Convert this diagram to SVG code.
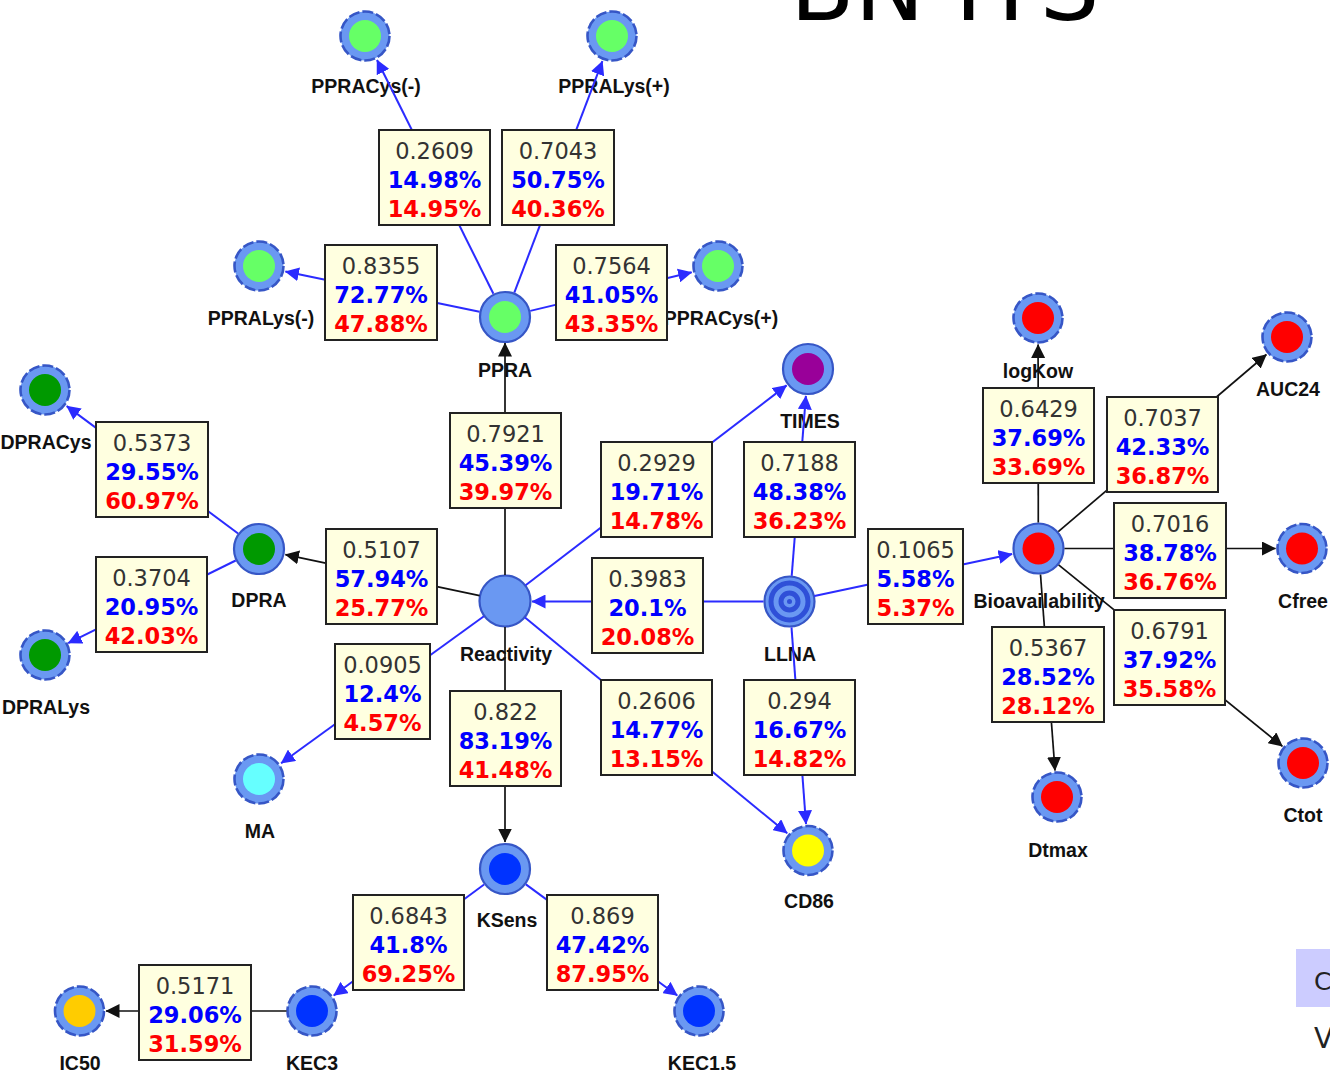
<svg xmlns="http://www.w3.org/2000/svg" width="1330" height="1073" viewBox="0 0 1330 1073">
<style>
.ring{fill:#6a98f2;stroke:#3656c6;stroke-width:2.2}
.leaf{stroke-dasharray:11 3;stroke-width:2.6}
.lbl{font-family:"Liberation Sans",Arial,sans-serif;font-weight:bold;font-size:19.5px;fill:#111;text-anchor:middle}
.eb{stroke:#2b2bff;stroke-width:2;fill:none;marker-end:url(#ab)}
.ek{stroke:#111;stroke-width:1.7;fill:none;marker-end:url(#ak)}
.box rect{fill:#ffffe0;stroke:#222;stroke-width:2}
.box text{font-family:"DejaVu Sans",Verdana,sans-serif;font-size:22.5px;text-anchor:middle}
.p0{fill:#333}
.p1{fill:#0000ff;font-weight:bold}
.p2{fill:#ff0000;font-weight:bold}
.title{font-family:"DejaVu Sans",sans-serif;font-size:94px;fill:#000}
.side{font-family:"DejaVu Sans",sans-serif;fill:#222}
</style>
<defs>
<marker id="ab" viewBox="0 0 14 14" refX="13.5" refY="7" markerWidth="14" markerHeight="14" markerUnits="userSpaceOnUse" orient="auto"><path d="M0,0 L14,7 L0,14 z" fill="#2b2bff"/></marker>
<marker id="ak" viewBox="0 0 14 14" refX="13.5" refY="7" markerWidth="14" markerHeight="14" markerUnits="userSpaceOnUse" orient="auto"><path d="M0,0 L14,7 L0,14 z" fill="#111"/></marker>
</defs>
<rect width="1330" height="1073" fill="#fff"/>
<text class="title" x="790" y="20">BN ITS</text>
<rect x="1296" y="949" width="40" height="58" fill="#ccccff"/>
<text class="side" x="1314" y="990" font-size="25">C</text>
<text class="side" x="1314" y="1048" font-size="28">V</text>

<g id="nodes">
<g id="n-PPRACys-minus"><circle class="ring leaf" cx="365" cy="36" r="24.5"/><circle cx="365" cy="36" r="16" fill="#66ff66"/><text class="lbl" x="366" y="93">PPRACys(-)</text></g>
<g id="n-PPRALys-plus"><circle class="ring leaf" cx="612" cy="36" r="24.5"/><circle cx="612" cy="36" r="16" fill="#66ff66"/><text class="lbl" x="614" y="93">PPRALys(+)</text></g>
<g id="n-PPRALys-minus"><circle class="ring leaf" cx="259" cy="266" r="24.5"/><circle cx="259" cy="266" r="16" fill="#66ff66"/><text class="lbl" x="261" y="325">PPRALys(-)</text></g>
<g id="n-PPRACys-plus"><circle class="ring leaf" cx="718" cy="266" r="24.5"/><circle cx="718" cy="266" r="16" fill="#66ff66"/><text class="lbl" x="721" y="325">PPRACys(+)</text></g>
<g id="n-PPRA"><circle class="ring" cx="505" cy="317" r="25"/><circle cx="505" cy="317" r="16" fill="#66ff66"/><text class="lbl" x="505" y="377">PPRA</text></g>
<g id="n-DPRACys"><circle class="ring leaf" cx="45" cy="390" r="24.5"/><circle cx="45" cy="390" r="16" fill="#009900"/><text class="lbl" x="46" y="449">DPRACys</text></g>
<g id="n-DPRA"><circle class="ring" cx="259" cy="549" r="25"/><circle cx="259" cy="549" r="16" fill="#009900"/><text class="lbl" x="259" y="607">DPRA</text></g>
<g id="n-DPRALys"><circle class="ring leaf" cx="45" cy="655" r="24.5"/><circle cx="45" cy="655" r="16" fill="#009900"/><text class="lbl" x="46" y="714">DPRALys</text></g>
<g id="n-Reactivity"><circle class="ring" cx="505" cy="601" r="25.5" fill="#6b9bf7"/><text class="lbl" x="506" y="661">Reactivity</text></g>
<g id="n-TIMES"><circle class="ring" cx="808" cy="369" r="25"/><circle cx="808" cy="369" r="16" fill="#990099"/><text class="lbl" x="810" y="428">TIMES</text></g>
<g id="n-LLNA"><circle class="ring" cx="789.5" cy="601.5" r="25" fill="#6d96f2"/><circle cx="789.5" cy="601.5" r="18.5" fill="none" stroke="#2f50d8" stroke-width="5"/><circle cx="789.5" cy="601.5" r="8.5" fill="none" stroke="#2f50d8" stroke-width="5"/><circle cx="789.5" cy="601.5" r="2.5" fill="#2f50d8"/><text class="lbl" x="790" y="661">LLNA</text></g>
<g id="n-MA"><circle class="ring leaf" cx="259" cy="779" r="24.5"/><circle cx="259" cy="779" r="16" fill="#66ffff"/><text class="lbl" x="260" y="838">MA</text></g>
<g id="n-KSens"><circle class="ring" cx="505" cy="869" r="25"/><circle cx="505" cy="869" r="16" fill="#0033ff"/><text class="lbl" x="507" y="927">KSens</text></g>
<g id="n-CD86"><circle class="ring leaf" cx="808" cy="850.5" r="24.5"/><circle cx="808" cy="850.5" r="16" fill="#ffff00"/><text class="lbl" x="809" y="908">CD86</text></g>
<g id="n-KEC3"><circle class="ring leaf" cx="312" cy="1011" r="24.5"/><circle cx="312" cy="1011" r="16" fill="#0033ff"/><text class="lbl" x="312" y="1070">KEC3</text></g>
<g id="n-KEC1.5"><circle class="ring leaf" cx="699" cy="1011" r="24.5"/><circle cx="699" cy="1011" r="16" fill="#0033ff"/><text class="lbl" x="702" y="1070">KEC1.5</text></g>
<g id="n-IC50"><circle class="ring leaf" cx="79.5" cy="1011" r="24.5"/><circle cx="79.5" cy="1011" r="16" fill="#ffcc00"/><text class="lbl" x="80" y="1070">IC50</text></g>
<g id="n-logKow"><circle class="ring leaf" cx="1038" cy="318" r="24.5"/><circle cx="1038" cy="318" r="16" fill="#ff0000"/><text class="lbl" x="1038" y="378">logKow</text></g>
<g id="n-AUC24"><circle class="ring leaf" cx="1287" cy="337" r="24.5"/><circle cx="1287" cy="337" r="16" fill="#ff0000"/><text class="lbl" x="1288" y="396">AUC24</text></g>
<g id="n-Bioavailability"><circle class="ring" cx="1038.5" cy="548.5" r="25"/><circle cx="1038.5" cy="548.5" r="16" fill="#ff0000"/><text class="lbl" x="1039" y="608">Bioavailability</text></g>
<g id="n-Cfree"><circle class="ring leaf" cx="1302" cy="548.5" r="24.5"/><circle cx="1302" cy="548.5" r="16" fill="#ff0000"/><text class="lbl" x="1303" y="608">Cfree</text></g>
<g id="n-Dtmax"><circle class="ring leaf" cx="1057" cy="797" r="24.5"/><circle cx="1057" cy="797" r="16" fill="#ff0000"/><text class="lbl" x="1058" y="857">Dtmax</text></g>
<g id="n-Ctot"><circle class="ring leaf" cx="1303" cy="763" r="24.5"/><circle cx="1303" cy="763" r="16" fill="#ff0000"/><text class="lbl" x="1303" y="822">Ctot</text></g>
</g>

<g id="connectors">
<line class="eb" x1="493.4" y1="293.7" x2="377" y2="60"/>
<line class="eb" x1="514.3" y1="292.7" x2="602.4" y2="61.2"/>
<line class="eb" x1="479.5" y1="311.7" x2="285.4" y2="271.5"/>
<line class="eb" x1="530.3" y1="310.9" x2="691.7" y2="272.3"/>
<line class="ek" x1="505" y1="575" x2="505" y2="343"/>
<line class="eb" x1="525.6" y1="585.2" x2="786.6" y2="385.4"/>
<line class="ek" x1="479.6" y1="595.6" x2="285.4" y2="554.6"/>
<line class="eb" x1="238.1" y1="533.5" x2="66.7" y2="406.1"/>
<line class="eb" x1="235.7" y1="560.5" x2="68.2" y2="643.1"/>
<line class="eb" x1="763.5" y1="601.5" x2="532" y2="601.5"/>
<line class="eb" x1="791.7" y1="575.9" x2="805.9" y2="395.9"/>
<line class="eb" x1="814.4" y1="596" x2="1012.1" y2="554.1"/>
<line class="eb" x1="791.5" y1="627.4" x2="806" y2="824"/>
<line class="eb" x1="525" y1="617.5" x2="787.2" y2="833.3"/>
<line class="eb" x1="483.9" y1="616.2" x2="281.1" y2="763.2"/>
<line class="ek" x1="505" y1="627" x2="505" y2="842"/>
<line class="eb" x1="484.1" y1="884.5" x2="333.7" y2="995.5"/>
<line class="eb" x1="525.9" y1="884.4" x2="677.3" y2="995.5"/>
<line class="ek" x1="286.5" y1="1011" x2="106" y2="1011"/>
<line class="ek" x1="1038.3" y1="522.5" x2="1038.1" y2="344.5"/>
<line class="ek" x1="1058.3" y1="531.6" x2="1266.4" y2="354.5"/>
<line class="ek" x1="1064.5" y1="548.5" x2="1275.5" y2="548.5"/>
<line class="ek" x1="1040.5" y1="574.5" x2="1055" y2="770.5"/>
<line class="ek" x1="1058.6" y1="564.9" x2="1282.4" y2="746.3"/>
</g>

<g id="edge-labels">
<g class="box" transform="translate(379,130)"><rect width="111" height="95"/><text x="55.5" y="29" class="p0">0.2609</text><text x="55.5" y="58" class="p1">14.98%</text><text x="55.5" y="87" class="p2">14.95%</text></g>
<g class="box" transform="translate(502,130)"><rect width="112" height="95"/><text x="56" y="29" class="p0">0.7043</text><text x="56" y="58" class="p1">50.75%</text><text x="56" y="87" class="p2">40.36%</text></g>
<g class="box" transform="translate(325,245)"><rect width="112" height="95"/><text x="56" y="29" class="p0">0.8355</text><text x="56" y="58" class="p1">72.77%</text><text x="56" y="87" class="p2">47.88%</text></g>
<g class="box" transform="translate(556,245)"><rect width="111" height="95"/><text x="55.5" y="29" class="p0">0.7564</text><text x="55.5" y="58" class="p1">41.05%</text><text x="55.5" y="87" class="p2">43.35%</text></g>
<g class="box" transform="translate(96,422)"><rect width="112" height="95"/><text x="56" y="29" class="p0">0.5373</text><text x="56" y="58" class="p1">29.55%</text><text x="56" y="87" class="p2">60.97%</text></g>
<g class="box" transform="translate(450,413)"><rect width="111" height="95"/><text x="55.5" y="29" class="p0">0.7921</text><text x="55.5" y="58" class="p1">45.39%</text><text x="55.5" y="87" class="p2">39.97%</text></g>
<g class="box" transform="translate(601,442)"><rect width="111" height="95"/><text x="55.5" y="29" class="p0">0.2929</text><text x="55.5" y="58" class="p1">19.71%</text><text x="55.5" y="87" class="p2">14.78%</text></g>
<g class="box" transform="translate(744,442)"><rect width="111" height="95"/><text x="55.5" y="29" class="p0">0.7188</text><text x="55.5" y="58" class="p1">48.38%</text><text x="55.5" y="87" class="p2">36.23%</text></g>
<g class="box" transform="translate(983,388)"><rect width="111" height="95"/><text x="55.5" y="29" class="p0">0.6429</text><text x="55.5" y="58" class="p1">37.69%</text><text x="55.5" y="87" class="p2">33.69%</text></g>
<g class="box" transform="translate(1107,397)"><rect width="111" height="95"/><text x="55.5" y="29" class="p0">0.7037</text><text x="55.5" y="58" class="p1">42.33%</text><text x="55.5" y="87" class="p2">36.87%</text></g>
<g class="box" transform="translate(326,529)"><rect width="111" height="95"/><text x="55.5" y="29" class="p0">0.5107</text><text x="55.5" y="58" class="p1">57.94%</text><text x="55.5" y="87" class="p2">25.77%</text></g>
<g class="box" transform="translate(592,558)"><rect width="111" height="95"/><text x="55.5" y="29" class="p0">0.3983</text><text x="55.5" y="58" class="p1">20.1%</text><text x="55.5" y="87" class="p2">20.08%</text></g>
<g class="box" transform="translate(868,529)"><rect width="95" height="95"/><text x="47.5" y="29" class="p0">0.1065</text><text x="47.5" y="58" class="p1">5.58%</text><text x="47.5" y="87" class="p2">5.37%</text></g>
<g class="box" transform="translate(1114,503)"><rect width="112" height="95"/><text x="56" y="29" class="p0">0.7016</text><text x="56" y="58" class="p1">38.78%</text><text x="56" y="87" class="p2">36.76%</text></g>
<g class="box" transform="translate(96,557)"><rect width="111" height="95"/><text x="55.5" y="29" class="p0">0.3704</text><text x="55.5" y="58" class="p1">20.95%</text><text x="55.5" y="87" class="p2">42.03%</text></g>
<g class="box" transform="translate(335,644)"><rect width="95" height="95"/><text x="47.5" y="29" class="p0">0.0905</text><text x="47.5" y="58" class="p1">12.4%</text><text x="47.5" y="87" class="p2">4.57%</text></g>
<g class="box" transform="translate(450,691)"><rect width="111" height="95"/><text x="55.5" y="29" class="p0">0.822</text><text x="55.5" y="58" class="p1">83.19%</text><text x="55.5" y="87" class="p2">41.48%</text></g>
<g class="box" transform="translate(601,680)"><rect width="111" height="95"/><text x="55.5" y="29" class="p0">0.2606</text><text x="55.5" y="58" class="p1">14.77%</text><text x="55.5" y="87" class="p2">13.15%</text></g>
<g class="box" transform="translate(744,680)"><rect width="111" height="95"/><text x="55.5" y="29" class="p0">0.294</text><text x="55.5" y="58" class="p1">16.67%</text><text x="55.5" y="87" class="p2">14.82%</text></g>
<g class="box" transform="translate(992,627)"><rect width="112" height="95"/><text x="56" y="29" class="p0">0.5367</text><text x="56" y="58" class="p1">28.52%</text><text x="56" y="87" class="p2">28.12%</text></g>
<g class="box" transform="translate(1114,610)"><rect width="111" height="95"/><text x="55.5" y="29" class="p0">0.6791</text><text x="55.5" y="58" class="p1">37.92%</text><text x="55.5" y="87" class="p2">35.58%</text></g>
<g class="box" transform="translate(353,895)"><rect width="111" height="95"/><text x="55.5" y="29" class="p0">0.6843</text><text x="55.5" y="58" class="p1">41.8%</text><text x="55.5" y="87" class="p2">69.25%</text></g>
<g class="box" transform="translate(547,895)"><rect width="111" height="95"/><text x="55.5" y="29" class="p0">0.869</text><text x="55.5" y="58" class="p1">47.42%</text><text x="55.5" y="87" class="p2">87.95%</text></g>
<g class="box" transform="translate(139,965)"><rect width="112" height="95"/><text x="56" y="29" class="p0">0.5171</text><text x="56" y="58" class="p1">29.06%</text><text x="56" y="87" class="p2">31.59%</text></g>
</g>
</svg>
